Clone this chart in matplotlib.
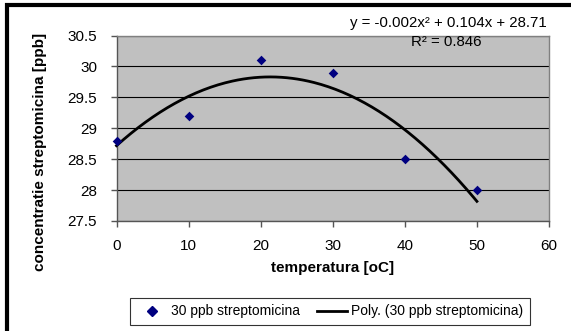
# Streptomycin concentration vs temperature, with quadratic trendline.
# Output: out.png (571x331 px)

import matplotlib.pyplot as plt
import matplotlib.patches as mpatches
from matplotlib.lines import Line2D
import numpy as np

plt.rcParams["font.family"] = ["Liberation Sans", "DejaVu Sans"]

TEMPERATURE = [0, 10, 20, 30, 40, 50]
CONCENTRATION = [28.8, 29.2, 30.1, 29.9, 28.5, 28.0]

SERIES_LABEL = "30 ppb streptomicina"
TREND_LABEL = "Poly. (30 ppb streptomicina)"
EQUATION = "y = -0.002x² + 0.104x + 28.71"
R2_TEXT = "R² = 0.846"

X_TICKS = [0, 10, 20, 30, 40, 50, 60]
Y_TICKS = [27.5, 28, 28.5, 29, 29.5, 30, 30.5]

W, H = 571, 331


def main():
    fig = plt.figure(figsize=(W / 100, H / 100), dpi=100)
    fig.patch.set_facecolor("white")

    # outer chart border (cut off at right/bottom like the screenshot)
    border = mpatches.Rectangle((7 / W, -0.05), 1.2, 1 - 5 / H + 0.05,
                                transform=fig.transFigure, fill=False,
                                edgecolor="black", linewidth=3, clip_on=False)
    fig.patches.append(border)

    ax = fig.add_axes([116.5 / W, 1 - 221 / H, 432.5 / W, 185.5 / H])
    ax.set_facecolor("#c0c0c0")

    ax.set_xlim(0, 60)
    ax.set_ylim(27.5, 30.5)
    ax.set_xticks(X_TICKS)
    ax.set_yticks(Y_TICKS)
    ax.set_yticklabels([f"{v:g}" for v in Y_TICKS])
    ax.yaxis.grid(True, color="black", linewidth=0.8)
    ax.set_axisbelow(True)

    for side in ["top", "right"]:
        ax.spines[side].set_color("#808080")
        ax.spines[side].set_linewidth(1)
    for side in ["left", "bottom"]:
        ax.spines[side].set_color("#555555")
        ax.spines[side].set_linewidth(1)

    ax.tick_params(axis="both", direction="out", length=4, width=1,
                   color="#555555", labelsize=11, labelcolor="black")
    ax.tick_params(axis="x", pad=9)
    ax.tick_params(axis="y", pad=10)

    # quadratic trendline fitted to the points
    coeffs = np.polyfit(TEMPERATURE, CONCENTRATION, 2)
    xs = np.linspace(min(TEMPERATURE), max(TEMPERATURE), 200)
    ax.plot(xs, np.polyval(coeffs, xs), color="black", linewidth=2,
            zorder=3, clip_on=False)

    ax.scatter(TEMPERATURE, CONCENTRATION, marker="D", s=24, color="#000080",
               zorder=4, clip_on=False, linewidths=0)

    ax.set_xlabel("temperatura [oC]", fontsize=11, fontweight="bold", labelpad=6)
    # Excel-style axis title sits lower than the plot centre
    fig.text(40 / W, 1 - 152 / H, "concentratie streptomicina [ppb]",
             rotation=90, ha="center", va="center", fontsize=11,
             fontweight="bold")

    fig.text(547 / W, 1 - 23 / H, EQUATION, ha="right", va="center", fontsize=10.8)
    fig.text(446 / W, 1 - 42 / H, R2_TEXT, ha="center", va="center", fontsize=10.8)

    handles = [
        Line2D([0], [0], marker="D", color="#000080", linestyle="None",
               markersize=5, label=SERIES_LABEL),
        Line2D([0], [0], color="black", linewidth=2, label=TREND_LABEL),
    ]
    leg = fig.legend(handles=handles, loc="center", ncol=2,
                     bbox_to_anchor=(330 / W, 1 - 311.5 / H),
                     fontsize=10, frameon=True, fancybox=False,
                     handlelength=2.2, handletextpad=0.3, columnspacing=1.2,
                     borderpad=0.45, borderaxespad=0)
    leg.get_frame().set_edgecolor("black")
    leg.get_frame().set_linewidth(0.8)

    fig.savefig("out.png", dpi=100)


if __name__ == "__main__":
    main()
